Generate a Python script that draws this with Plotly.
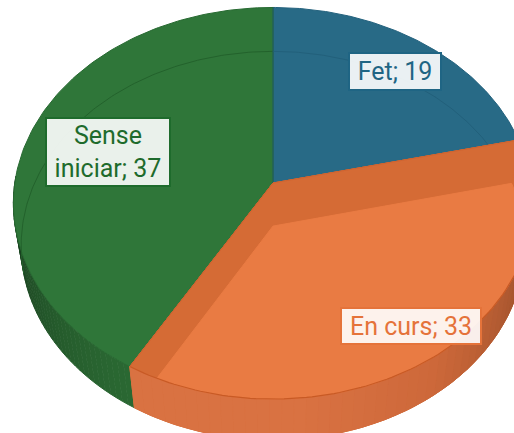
import numpy as np
import plotly.graph_objects as go

# ---------------- data ----------------
categories = ["Fet", "En curs", "Sense iniciar"]
values = [19, 33, 37]
label_texts = ["Fet; 19", "En curs; 33", "Sense<br>iniciar; 37"]

# ---------------- style ----------------
top_colors = ["#286a86", "#e97b43", "#2f7639"]
text_colors = ["#1f6584", "#e5733a", "#1e6b2c"]
strip_color = "#d56b35"
label_pos = [(395, 71), (411, 326), (108, 152)]
label_box = [(84, 29), (132, 28), (116, 60)]

W, H_PX = 514, 433
CX, CY = 273, 183          # projected centre of the top face
FOC, DIST = 1650.0, 6.39   # perspective
PHI = np.deg2rad(48.6)     # elevation
THICK = 0.26               # disk thickness
S, C = np.sin(PHI), np.cos(PHI)


def proj(theta_deg, r, z):
    t = np.deg2rad(np.asarray(theta_deg, dtype=float))
    X = r * np.sin(t)
    Y = r * np.cos(t)
    depth = DIST + Y * C - z * S
    x = CX + FOC * X / depth
    y = CY - FOC * (Y * S + z * C) / depth
    return x, y


def arc(t0, t1, z, n=120):
    th = np.linspace(t0, t1, n)
    return proj(th, 1.0, z)


def wedge(t0, t1, z):
    ax, ay = proj(0, 0.0, z)
    x, y = arc(t0, t1, z)
    return np.concatenate([[ax], x, [ax]]), np.concatenate([[ay], y, [ay]])


def poly_clip(subject, clipper):
    cl = list(clipper)
    area = 0.0
    for i in range(len(cl)):
        x1, y1 = cl[i]
        x2, y2 = cl[(i + 1) % len(cl)]
        area += x1 * y2 - x2 * y1
    sgn = 1.0 if area > 0 else -1.0
    out = list(subject)
    for i in range(len(cl)):
        a = cl[i]
        b = cl[(i + 1) % len(cl)]
        if (abs(a[0] - b[0]) + abs(a[1] - b[1])) < 1e-9:
            continue
        inp, out = out, []
        if not inp:
            break

        def inside(p):
            return sgn * ((b[0] - a[0]) * (p[1] - a[1]) - (b[1] - a[1]) * (p[0] - a[0])) >= 0

        def inter(p, q):
            x1, y1 = p; x2, y2 = q; x3, y3 = a; x4, y4 = b
            den = (x1 - x2) * (y3 - y4) - (y1 - y2) * (x3 - x4)
            if abs(den) < 1e-12:
                return q
            t = ((x1 - x3) * (y3 - y4) - (y1 - y3) * (x3 - x4)) / den
            return (x1 + t * (x2 - x1), y1 + t * (y2 - y1))

        s = inp[-1]
        for e in inp:
            if inside(e):
                if not inside(s):
                    out.append(inter(s, e))
                out.append(e)
            elif inside(s):
                out.append(inter(s, e))
            s = e
    return out


def lerp_col(c0, c1, f):
    return "rgb(%d,%d,%d)" % tuple(int(round(c0[k] + (c1[k] - c0[k]) * f)) for k in range(3))


fig = go.Figure()


def add_poly(x, y, fill, line=None, lw=1):
    fig.add_trace(go.Scatter(
        x=list(x), y=list(y), mode="lines", fill="toself", fillcolor=fill,
        line=dict(color=line or fill, width=lw), hoverinfo="skip", showlegend=False))


def add_line(x, y, color, lw=1):
    fig.add_trace(go.Scatter(x=list(x), y=list(y), mode="lines",
                             line=dict(color=color, width=lw),
                             hoverinfo="skip", showlegend=False))


total = float(sum(values))
starts, ends = [], []
acc = 0.0
for v in values:
    starts.append(acc / total * 360.0)
    acc += v
    ends.append(acc / total * 360.0)

i_fet, i_cur, i_sen = 0, 1, 2

# ---- green wall (visible front-left part) ----
g0, g1 = ends[i_cur], 272.0
nseg = 40
cg_a, cg_b = (42, 104, 50), (22, 54, 27)
edges = np.linspace(g0, g1, nseg + 1)
for k in range(nseg):
    tx, ty = arc(edges[k], edges[k + 1], 0.0, 6)
    bx, by = arc(edges[k + 1], edges[k], -THICK, 6)
    f = (k + 0.5) / nseg
    col = lerp_col(cg_a, cg_b, f ** 1.3)
    add_poly(np.concatenate([tx, bx]), np.concatenate([ty, by]), col)

# ---- top faces: blue and green ----
bx_, by_ = wedge(starts[i_fet], ends[i_fet], 0.0)
add_poly(bx_, by_, top_colors[i_fet], "#23617d")
gx_, gy_ = wedge(starts[i_sen], ends[i_sen], 0.0)
add_poly(gx_, gy_, top_colors[i_sen], "#286a32")

# faint back rim of the bottom face, seen through
rx, ry = arc(256, 360, -THICK)
add_line(rx, ry, "#23622c", 1)
rx, ry = arc(0, ends[i_fet] + 8, -THICK)
add_line(rx, ry, "#22607b", 1)
sx, sy = proj([0, 0], np.array([1.0, 0.0]), 0.0)
add_line(sx, sy, "#215f66", 1)

# ---- orange slice ----
o0, o1 = starts[i_cur], ends[i_cur]
tx, ty = wedge(o0, o1, 0.0)
add_poly(tx, ty, strip_color)
ux, uy = wedge(o0, o1, -THICK)
add_poly(ux, uy, strip_color)
for th in (o0, o1):
    p1 = proj(0, 0.0, 0.0); p2 = proj(th, 1.0, 0.0)
    p3 = proj(th, 1.0, -THICK); p4 = proj(0, 0.0, -THICK)
    add_poly([p1[0], p2[0], p3[0], p4[0]], [p1[1], p2[1], p3[1], p4[1]], strip_color)

w0, w1 = max(o0, 92.0), o1
nseg = 48
edges = np.linspace(w0, w1, nseg + 1)
cw_dark, cw_mid, cw_light = (140, 72, 38), (205, 104, 58), (217, 114, 66)
for k in range(nseg):
    tx2, ty2 = arc(edges[k], edges[k + 1], 0.0, 6)
    bx2, by2 = arc(edges[k + 1], edges[k], -THICK, 6)
    th = 0.5 * (edges[k] + edges[k + 1])
    if th < 145:
        col = lerp_col(cw_dark, cw_mid, (th - w0) / (145 - w0))
    else:
        col = lerp_col(cw_mid, cw_light, min(1.0, (th - 145) / 30))
    add_poly(np.concatenate([tx2, bx2]), np.concatenate([ty2, by2]), col)

P_top = list(zip(*wedge(o0, o1, 0.0)))[:-1]
P_bot = list(zip(*wedge(o0, o1, -THICK)))[:-1]
light = poly_clip(P_top, P_bot)
if light:
    lx = [p[0] for p in light] + [light[0][0]]
    ly = [p[1] for p in light] + [light[0][1]]
    add_poly(lx, ly, top_colors[i_cur])

ax_, ay_ = arc(o0, o1, 0.0)
add_line(ax_, ay_, "#c85a25", 1.2)
for th in (o0, o1):
    p1 = proj(0, 0.0, 0.0); p2 = proj(th, 1.0, 0.0)
    add_line([p1[0], p2[0]], [p1[1], p2[1]], "#cf6430", 1)

# ---- labels ----
annotations = []
for i in range(len(categories)):
    x, y = label_pos[i]
    bw, bh = label_box[i]
    annotations.append(dict(
        x=x, y=y, xref="x", yref="y", text=label_texts[i], showarrow=False,
        width=bw, height=bh, valign="middle",
        font=dict(family="Roboto, Arial, sans-serif", size=25, color=text_colors[i]),
        bgcolor="rgba(255,255,255,0.9)", bordercolor=text_colors[i],
        borderwidth=2, borderpad=3, align="center"))

fig.update_layout(
    width=W, height=H_PX, margin=dict(l=0, r=0, t=0, b=0),
    paper_bgcolor="white", plot_bgcolor="white",
    xaxis=dict(range=[0, W], visible=False, fixedrange=True),
    yaxis=dict(range=[H_PX, 0], visible=False, fixedrange=True),
    annotations=annotations, showlegend=False)

fig.write_html("out.html", config={"displayModeBar": False},
               post_script="document.body.style.margin='0';")
